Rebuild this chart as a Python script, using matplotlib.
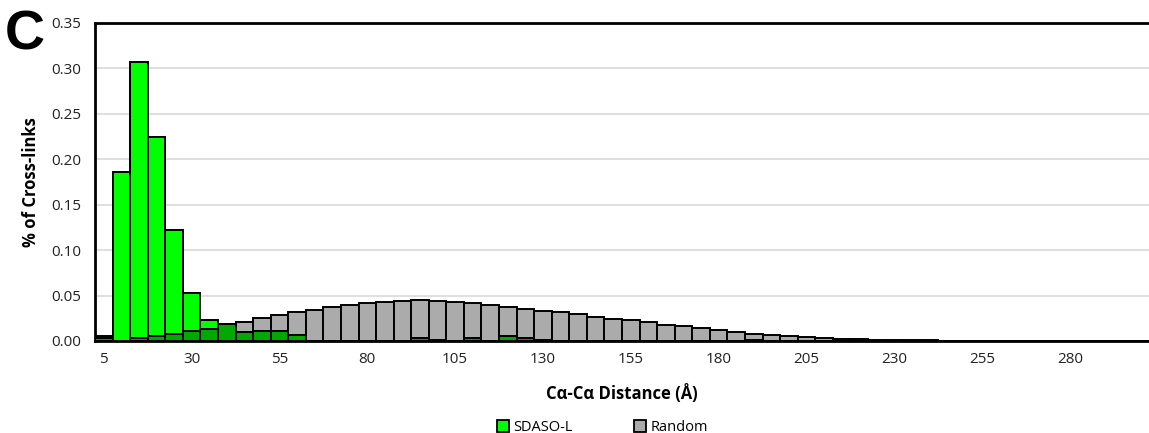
import matplotlib.pyplot as plt
from matplotlib.patches import Patch
import numpy as np

# distance bins (upper edge, Angstrom)
distances = list(range(5, 305, 5))

# fraction of cross-links per bin
sdaso_l = [0.0055, 0.1856, 0.3075, 0.2244, 0.1224, 0.0532, 0.0226, 0.0182,
           0.0096, 0.0107, 0.0107, 0.0071, 0.0, 0.0, 0.0, 0.0,
           0.0, 0.0, 0.0030, 0.0015, 0.0, 0.0030, 0.0, 0.0055,
           0.0030, 0.0010, 0.0, 0.0, 0.0, 0.0, 0.0, 0.0,
           0.0, 0.0, 0.0, 0.0, 0.0, 0.0015, 0.0, 0.0,
           0.0, 0.0, 0.0, 0.0, 0.0, 0.0, 0.0, 0.0,
           0.0, 0.0, 0.0, 0.0, 0.0, 0.0, 0.0, 0.0,
           0.0, 0.0, 0.0, 0.0]
random_xl = [0.0033, 0.0005, 0.0037, 0.0052, 0.0078, 0.0108, 0.0137, 0.0182,
             0.0207, 0.0248, 0.0282, 0.0315, 0.0344, 0.0374, 0.0396, 0.0418,
             0.0432, 0.0440, 0.0455, 0.0443, 0.0429, 0.0418, 0.0399, 0.0377,
             0.0355, 0.0333, 0.0315, 0.0293, 0.0266, 0.0244, 0.0226, 0.0204,
             0.0180, 0.0163, 0.0138, 0.0116, 0.0095, 0.0079, 0.0064, 0.0052,
             0.0042, 0.0034, 0.0027, 0.0018, 0.0012, 0.0009, 0.0007, 0.0006,
             0.0005, 0.0004, 0.0004, 0.0003, 0.0003, 0.0002, 0.0002, 0.0002,
             0.0, 0.0, 0.0, 0.0]

GREEN = '#00FF00'
GREY = '#ABABAB'
OVERLAP = '#00A800'

plt.rcParams['font.family'] = ['Open Sans', 'DejaVu Sans']

fig = plt.figure(figsize=(11.49, 4.33), dpi=100)
ax = fig.add_axes([95 / 1149, 1 - 341 / 433, 1 - 95 / 1149, (341 - 23) / 433])

x = np.arange(len(distances))
g = np.array(sdaso_l)
r = np.array(random_xl)
both = np.minimum(g, r)

# green first, grey on top, then the shared part in dark green
ax.bar(x, g, width=1.0, color=GREEN, edgecolor='black', linewidth=1.4, zorder=2)
ax.bar(x, r, width=1.0, color=GREY, edgecolor='black', linewidth=1.4, zorder=3)
ax.bar(x, both, width=1.0, color=OVERLAP, edgecolor='black', linewidth=1.4, zorder=4)

ax.set_xlim(-0.5, len(distances) - 0.5)
ax.set_ylim(0, 0.35)
ax.set_yticks(np.arange(0, 0.351, 0.05))
ax.set_yticklabels(['%.2f' % v for v in np.arange(0, 0.351, 0.05)])
ax.set_xticks(x[::5])
ax.set_xticklabels([str(d) for d in distances[::5]])
ax.tick_params(length=0, labelsize=11, colors='#222222', pad=8)
ax.tick_params(axis='y', pad=10)

ax.yaxis.grid(True, color='#D9D9D9', linewidth=1.2, zorder=0)
ax.set_axisbelow(True)
ax.spines['right'].set_visible(False)
for side in ['top', 'left', 'bottom']:
    ax.spines[side].set_linewidth(2)
    ax.spines[side].set_color('black')
ax.spines['bottom'].set_zorder(5)

ax.set_ylabel('% of Cross-links', fontsize=12, fontweight='bold', labelpad=8)
ax.set_xlabel('C\u03b1-C\u03b1 Distance (\u00c5)', fontsize=12, fontweight='bold', labelpad=12)

handles = [Patch(facecolor=GREEN, edgecolor='black', linewidth=1.3),
           Patch(facecolor=GREY, edgecolor='black', linewidth=1.3)]
fig.legend(handles, ['SDASO-L', 'Random'], loc='lower center',
           bbox_to_anchor=(0.5245, -0.035), ncol=2, frameon=False, fontsize=10.5,
           handlelength=0.8, handleheight=0.8, handletextpad=0.3, columnspacing=4.2)

fig.text(5 / 1149, 1 - 50 / 433, 'C', fontsize=40, fontweight='bold',
         family='Liberation Sans', va='baseline', ha='left')

fig.savefig('out.png', dpi=100)
